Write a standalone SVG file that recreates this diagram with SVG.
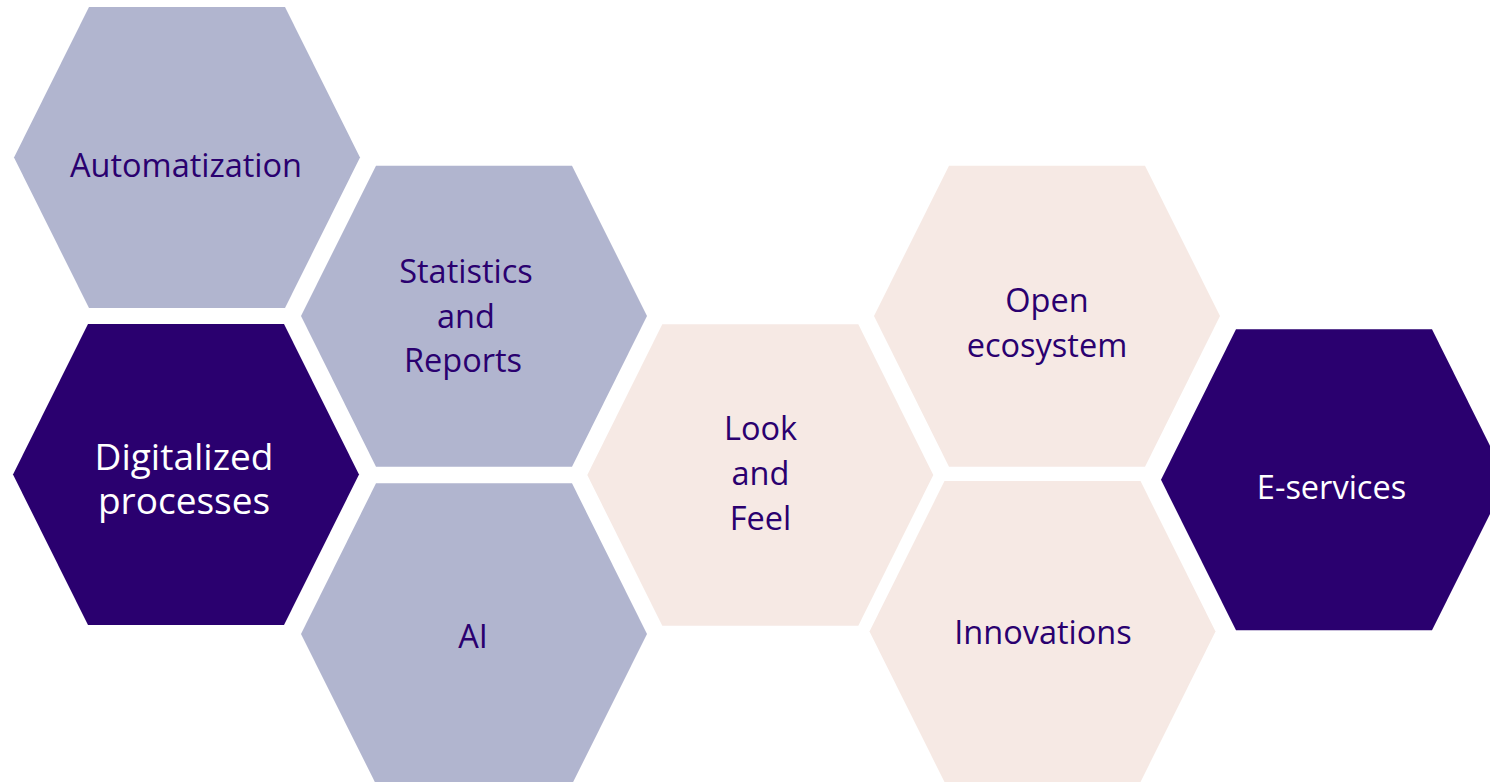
<svg xmlns="http://www.w3.org/2000/svg" width="1490" height="782" viewBox="0 0 1490 782">
<style>
.lav{fill:#B1B5CF}
.dark{fill:#2A006F}
.pink{fill:#F6E9E4}
text{font-family:"Open Sans","Noto Sans","DejaVu Sans",sans-serif;text-anchor:middle}
.t{font-size:32.5px;fill:#2A006F}
.tw{font-size:32.5px;fill:#FFFFFF}
.tb{font-size:37px;fill:#FFFFFF}
</style>
<rect width="1490" height="782" fill="#FFFFFF"/>
<g id="automatization">
<polygon class="lav" points="89,7 285,7 360,157.5 285,308 89,308 14,157.5"/>
<text class="t" x="186" y="177">Automatization</text>
</g>
<g id="digitalized-processes">
<polygon class="dark" points="88,324 284,324 359,474.5 284,625 88,625 13,474.5"/>
<text class="tb" x="184" y="470">Digitalized</text>
<text class="tb" x="184" y="514">processes</text>
</g>
<g id="statistics-and-reports">
<polygon class="lav" points="376,165.7 572,165.7 647,316 572,466.7 376,466.7 301,316"/>
<text class="t" x="466" y="283">Statistics</text>
<text class="t" x="466" y="328">and</text>
<text class="t" x="463" y="372">Reports</text>
</g>
<g id="ai">
<polygon class="lav" points="376,483.3 572,483.3 647,634 572,784.3 376,784.3 301,634"/>
<text class="t" x="473" y="648">AI</text>
</g>
<g id="look-and-feel">
<polygon class="pink" points="662.3,324.3 858.3,324.3 933.3,475 858.3,625.7 662.3,625.7 587.3,475"/>
<text class="t" x="760.5" y="440">Look</text>
<text class="t" x="760.5" y="485">and</text>
<text class="t" x="760.5" y="530">Feel</text>
</g>
<g id="open-ecosystem">
<polygon class="pink" points="949,165.7 1145,165.7 1220,316 1145,466.7 949,466.7 874,316"/>
<text class="t" x="1047" y="312">Open</text>
<text class="t" x="1047" y="357">ecosystem</text>
</g>
<g id="innovations">
<polygon class="pink" points="944.5,481 1140.5,481 1215.5,631.5 1140.5,782 944.5,782 869.5,631.5"/>
<text class="t" x="1043" y="644">Innovations</text>
</g>
<g id="e-services">
<polygon class="dark" points="1236,329.3 1432,329.3 1507,479.8 1432,630.3 1236,630.3 1161,479.8"/>
<text class="tw" x="1331.5" y="499">E-services</text>
</g>
<g id="connectors"></g>
</svg>
